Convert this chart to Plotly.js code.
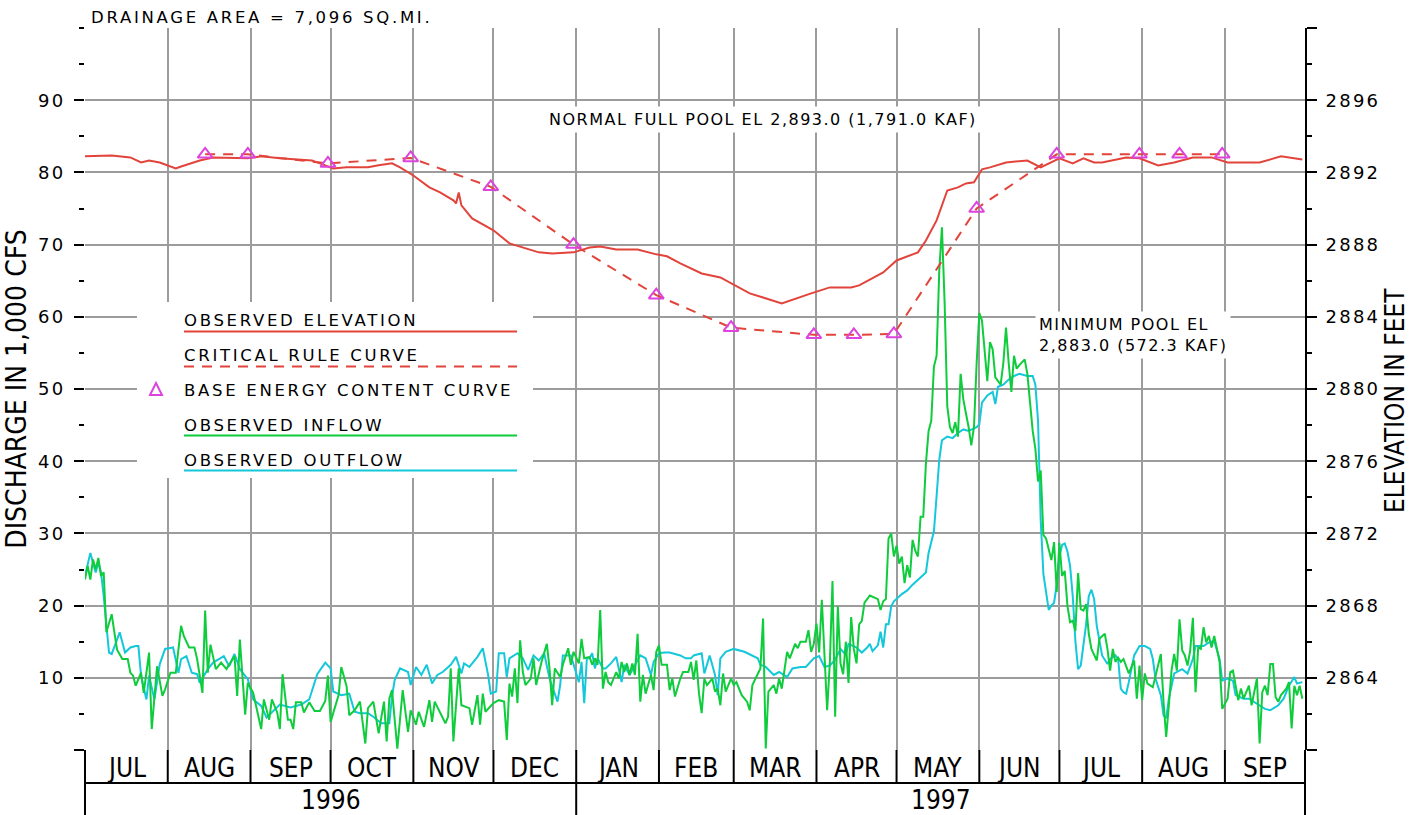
<!DOCTYPE html>
<html>
<head>
<meta charset="utf-8">
<script src="https://cdn.plot.ly/plotly-3.0.1.min.js"></script>
<style>
  html, body { margin: 0; padding: 0; background: #fff; }
  #chart { width: 1415px; height: 815px; }
  .ytick text, .y2tick text { letter-spacing: 2.2px; }
  .annotation-text { letter-spacing: 2.7px; }
  .annotation-text[style*="font-size: 16px"] { letter-spacing: 1.5px; }
  .annotation-text[style*="Condensed"] { letter-spacing: 0; }
</style>
</head>
<body>
<div id="chart"></div>
<script>
// Daily reservoir operation, water years 1996-1997.
// Day numbers count from 1 July 1996; flows in 1,000 cfs, elevations in feet.

const inflow = [
  [0,23.6],[1,25.5],[2,23.6],[3,26.4],[4,25.0],[5,26.6],[6,24.1],[7,24.6],[8,16.3],[10,18.8],[11,16.3],[12,13.9],
  [14,12.6],[16,12.6],[17,10.7],[18,10.3],[19,8.9],[21,10.7],[22,7.9],[24,13.5],[25,2.9],[26,7.9],[27,11.6],[29,7.5],
  [30,8.4],[32,10.7],[34,10.7],[36,17.2],[37,15.8],[39,14.2],[41,14.2],[42,12.6],[44,7.9],[45,19.3],[46,10.7],[47,14.6],
  [49,11.2],[51,12.1],[53,11.2],[56,13.0],[57,7.5],[58,15.3],[59,9.8],[60,4.9],[61,9.3],[63,7.9],[66,2.9],[67,7.0],
  [69,4.2],[70,7.0],[72,5.2],[73,2.9],[74,10.5],[76,4.2],[77,4.2],[78,2.9],[79,6.6],[81,6.6],[82,5.2],[84,6.6],
  [86,5.4],[88,5.4],[90,6.8],[91,10.3],[92,3.9],[95,7.6],[96,11.5],[98,8.8],[99,4.8],[101,5.5],[103,6.7],[105,0.9],
  [106,5.8],[108,6.7],[110,2.3],[112,6.7],[113,1.2],[114,7.1],[115,8.3],[117,0.2],[119,8.3],[121,2.5],[122,5.5],[124,3.5],
  [125,5.3],[127,3.2],[129,6.9],[130,3.9],[131,6.7],[133,5.3],[135,3.7],[136,4.6],[137,11.3],[138,1.2],[140,11.3],[141,6.2],
  [144,5.8],[145,3.5],[147,7.6],[148,3.5],[149,7.8],[150,5.3],[153,6.5],[155,6.9],[157,6.7],[158,1.4],[159,9.2],[160,7.4],
  [161,11.3],[162,6.5],[163,15.2],[164,10.8],[165,9.0],[167,9.9],[168,12.7],[169,9.0],[171,12.2],[173,14.7],[174,11.3],[175,6.2],
  [176,11.3],[178,10.1],[179,11.8],[181,14.1],[182,11.8],[183,13.6],[185,12.0],[186,15.4],[187,12.7],[189,12.9],[190,11.8],[191,12.7],
  [192,11.8],[193,19.4],[194,8.5],[195,10.8],[196,9.4],[197,9.0],[199,10.8],[200,9.9],[201,12.2],[202,10.8],[203,12.0],[204,10.4],
  [205,12.0],[206,10.4],[207,16.1],[208,6.7],[209,10.4],[210,7.8],[212,10.4],[213,8.3],[214,13.6],[215,14.5],[216,11.8],[218,11.8],
  [219,8.3],[220,9.9],[221,7.4],[223,9.9],[224,10.8],[226,10.8],[227,12.2],[228,9.7],[229,12.4],[230,7.8],[231,5.1],[232,9.9],
  [233,9.0],[235,9.9],[236,8.1],[237,8.5],[238,6.2],[239,10.6],[240,8.1],[242,9.9],[243,9.0],[244,9.4],[246,7.6],[248,6.7],
  [249,5.5],[250,9.0],[252,10.4],[253,11.3],[254,18.2],[255,0.2],[256,8.1],[258,9.0],[259,7.8],[260,9.9],[261,8.5],[262,11.1],
  [263,13.6],[264,12.7],[266,14.7],[267,14.1],[268,15.0],[270,15.0],[271,16.6],[272,13.6],[273,14.7],[274,17.5],[275,13.5],[276,20.8],
  [278,5.5],[279,12.0],[280,23.4],[281,4.6],[282,19.9],[283,12.0],[284,10.5],[285,15.0],[286,9.3],[287,18.4],[288,14.0],[289,12.0],
  [290,17.4],[291,17.9],[292,20.4],[294,21.4],[296,21.1],[297,20.9],[298,19.4],[299,20.6],[300,20.9],[301,29.3],[302,30.0],[303,26.8],
  [304,28.3],[305,25.8],[306,26.8],[307,23.1],[308,25.6],[309,23.9],[310,29.1],[311,27.6],[312,26.8],[313,32.3],[314,32.3],[315,39.7],
  [316,44.2],[317,45.6],[318,53.1],[319,54.6],[320,66.4],[321,72.4],[322,62.0],[323,47.6],[324,44.7],[325,43.9],[326,45.4],[327,43.4],
  [328,52.1],[329,48.6],[330,46.6],[331,44.7],[332,42.2],[333,44.7],[334,53.6],[335,60.5],[336,59.5],[338,51.1],[339,56.5],[340,55.5],
  [341,51.6],[343,50.6],[344,53.6],[345,58.5],[346,53.6],[347,49.6],[348,54.6],[349,52.8],[350,53.3],[352,54.1],[353,52.1],[354,48.6],
  [355,44.2],[356,41.7],[357,37.2],[358,38.7],[359,29.8],[360,29.3],[362,26.3],[363,28.8],[364,21.9],[365,28.7],[366,24.1],[367,24.8],
  [368,20.0],[369,17.7],[370,17.9],[371,16.5],[372,24.5],[373,19.5],[374,19.3],[375,20.2],[376,16.1],[377,14.0],[379,12.4],[380,15.4],
  [382,16.1],[383,14.0],[384,11.0],[385,14.0],[386,12.2],[387,12.8],[388,12.2],[389,12.6],[390,11.7],[391,10.6],[393,12.4],[394,7.1],
  [395,11.7],[396,6.9],[397,10.6],[398,9.2],[400,8.7],[401,10.3],[403,13.3],[404,6.7],[405,1.8],[406,6.2],[407,11.0],[408,13.3],
  [409,11.0],[410,18.1],[411,13.8],[412,13.1],[413,11.7],[414,13.8],[415,18.3],[416,8.0],[417,14.2],[418,14.0],[419,17.0],[420,14.9],
  [421,15.8],[422,14.2],[423,15.8],[425,12.2],[426,5.7],[428,7.1],[429,10.8],[430,11.0],[431,8.7],[432,6.9],[433,8.5],[434,7.1],
  [435,8.0],[436,8.9],[437,6.2],[438,8.0],[439,9.9],[440,0.9],[441,8.0],[442,8.9],[443,7.6],[444,11.9],[445,11.9],[446,7.3],
  [447,6.7],[448,7.6],[450,8.5],[451,9.4],[452,3.0],[453,8.9],[454,7.6],[455,8.9],[456,7.1]
];

const outflow = [
  [0,24.1],[2,27.3],[4,24.6],[5,26.0],[6,24.6],[7,21.3],[9,13.5],[10,13.3],[12,15.3],[13,16.3],[15,13.5],[17,14.2],
  [19,14.4],[20,14.4],[21,10.3],[23,7.0],[24,10.3],[26,7.0],[28,11.9],[30,14.0],[33,14.2],[35,10.7],[36,12.6],[38,13.0],
  [40,10.7],[42,10.5],[43,9.3],[46,11.2],[48,12.1],[52,13.0],[54,11.6],[56,13.3],[58,11.2],[61,9.8],[63,7.0],[66,6.1],
  [68,4.5],[71,5.6],[73,6.3],[77,5.9],[81,6.3],[84,7.0],[87,10.5],[90,12.1],[92,11.3],[93,8.1],[96,7.6],[99,7.8],
  [101,5.3],[103,5.1],[106,5.1],[108,4.6],[111,3.7],[114,3.7],[115,7.4],[116,9.7],[118,11.3],[121,10.8],[122,9.0],[124,11.5],
  [126,10.4],[128,11.8],[130,9.2],[132,10.4],[134,10.8],[137,11.8],[139,12.9],[141,10.6],[142,12.0],[144,11.5],[147,12.9],[149,14.1],
  [151,10.4],[152,7.8],[154,8.1],[155,13.4],[157,13.4],[158,10.1],[159,12.7],[162,13.4],[164,12.7],[166,11.1],[168,13.1],[170,12.4],
  [172,13.4],[174,9.9],[177,6.7],[178,9.0],[179,13.1],[182,13.1],[184,10.8],[185,9.4],[186,12.2],[187,6.5],[188,12.7],[189,12.7],
  [190,13.4],[191,11.3],[192,12.7],[194,11.3],[195,11.3],[197,12.0],[199,12.9],[200,11.3],[201,9.4],[202,11.8],[204,10.4],[206,11.8],
  [208,13.1],[210,12.7],[212,10.4],[213,12.2],[215,13.4],[217,13.5],[219,13.5],[223,13.1],[225,12.7],[227,12.7],[228,13.1],[231,13.4],
  [232,10.6],[234,13.1],[236,10.4],[237,7.6],[238,12.7],[240,13.6],[243,14.0],[247,13.6],[250,13.1],[252,12.7],[253,11.8],[255,11.5],
  [258,10.4],[260,10.8],[263,10.1],[265,11.3],[268,11.5],[270,11.5],[273,12.7],[275,13.0],[277,11.5],[279,11.7],[281,12.5],[283,14.0],
  [285,13.2],[286,14.7],[289,14.2],[291,13.5],[293,14.2],[294,14.7],[295,13.7],[297,14.5],[298,16.4],[299,14.2],[300,17.4],[301,17.4],
  [302,19.9],[303,20.6],[306,21.6],[308,22.1],[310,22.9],[313,23.9],[315,24.6],[316,27.3],[318,30.3],[319,35.2],[320,40.2],[321,42.9],
  [323,43.4],[325,43.2],[327,43.9],[329,44.4],[331,44.2],[334,44.7],[335,45.1],[336,48.1],[338,49.1],[340,49.6],[341,47.9],[342,50.3],
  [344,50.6],[346,51.3],[348,51.8],[350,52.1],[353,51.8],[355,51.8],[356,50.6],[357,45.6],[358,31.8],[359,24.4],[361,19.4],[362,20.0],
  [363,20.4],[364,22.9],[365,26.8],[366,28.4],[367,28.6],[368,27.5],[369,25.5],[370,21.3],[371,15.0],[372,11.2],[373,11.7],[375,17.4],
  [376,21.3],[377,22.2],[378,20.9],[379,17.2],[380,15.4],[381,13.1],[383,11.9],[384,12.6],[386,13.1],[387,12.6],[388,8.5],[389,8.0],
  [390,7.8],[391,9.4],[393,13.1],[395,14.4],[397,14.4],[399,14.0],[400,12.6],[401,9.9],[403,7.6],[404,4.8],[405,4.4],[406,7.1],
  [408,10.6],[410,11.0],[411,11.2],[413,10.6],[415,12.6],[416,14.4],[419,14.4],[421,14.9],[423,15.1],[425,12.6],[426,9.6],[428,9.9],
  [430,9.6],[431,7.6],[434,7.1],[436,7.1],[439,6.4],[442,5.7],[444,5.5],[447,6.2],[449,7.1],[451,8.9],[453,10.1],[454,9.2],[456,9.4]
];

const elevation = [
  [0,2892.89],[10,2892.94],[17,2892.83],[21,2892.55],[24,2892.66],[28,2892.55],[34,2892.22],[36,2892.33],[43,2892.66],[48,2892.83],
  [61,2892.78],[66,2892.89],[73,2892.78],[85,2892.66],[88,2892.50],[93,2892.22],[98,2892.28],[106,2892.28],[110,2892.39],[115,2892.50],
  [118,2892.28],[123,2891.83],[129,2891.17],[133,2890.89],[138,2890.45],[139,2890.28],[140,2890.89],[141,2890.17],[145,2889.45],[153,2888.79],
  [159,2888.07],[170,2887.57],[175,2887.51],[183,2887.57],[189,2887.84],[193,2887.90],[199,2887.73],[207,2887.73],[214,2887.46],[218,2887.35],
  [223,2886.96],[231,2886.40],[238,2886.18],[249,2885.30],[254,2885.07],[261,2884.74],[272,2885.30],[279,2885.63],[287,2885.63],[290,2885.74],
  [299,2886.46],[304,2887.12],[312,2887.57],[315,2888.23],[319,2889.34],[323,2891.00],[327,2891.17],[330,2891.39],[333,2891.45],[336,2892.17],
  [339,2892.28],[345,2892.55],[353,2892.66],[358,2892.28],[365,2892.78],[370,2892.50],[374,2892.78],[378,2892.55],[381,2892.55],[390,2892.83],
  [395,2892.78],[402,2892.39],[408,2892.55],[415,2892.83],[422,2892.83],[428,2892.55],[440,2892.55],[448,2892.89],[456,2892.72]
];

const ruleCurve = [
  [45,2893.0],[61,2893.0],[91,2892.5],[122,2892.8],[152,2891.2],[183,2888.0],[214,2885.2],[242,2883.4],
  [273,2883.0],[288,2883.0],[303,2883.05],[334,2890.0],[364,2893.0],[395,2893.0],[410,2893.0],[426,2893.0]
];

const baseEnergy = [
  [45,2893.0],[61,2893.0],[91,2892.5],[122,2892.8],[152,2891.2],[183,2888.0],[214,2885.2],[242,2883.4],
  [273,2883.0],[288,2883.0],[303,2883.05],[334,2890.0],[364,2893.0],[395,2893.0],[410,2893.0],[426,2893.0]
];

const monthLabels = ['JUL','AUG','SEP','OCT','NOV','DEC','JAN','FEB','MAR','APR','MAY','JUN','JUL','AUG','SEP'];
const yearLabels = ['1996', '1997'];
const yearBounds = ['1996-07-01', '1997-01-01', '1997-10-01'];
const dischargeTicks = [0, 10, 20, 30, 40, 50, 60, 70, 80, 90];
const elevationTicks = [2860, 2864, 2868, 2872, 2876, 2880, 2884, 2888, 2892, 2896, 2900];

const legendItems = ['OBSERVED ELEVATION', 'CRITICAL RULE CURVE', 'BASE ENERGY CONTENT CURVE', 'OBSERVED INFLOW', 'OBSERVED OUTFLOW'];

// ---- helpers ----
const T0 = Date.UTC(1996, 6, 1);
const DAY = 86400000;
const toDate = d => new Date(T0 + d * DAY).toISOString().slice(0, 10);
const xs = arr => arr.map(p => toDate(p[0]));
const ys = arr => arr.map(p => p[1]);

const monthStarts = [];
for (let i = 0; i <= monthLabels.length; i++) {
  monthStarts.push(new Date(Date.UTC(1996, 6 + i, 1)).toISOString().slice(0, 10));
}
const mid = (a, b) => new Date((Date.parse(a) + Date.parse(b)) / 2).toISOString().slice(0, 19);

const RED = '#e2443b', MAGENTA = '#dd44dd', GREEN = '#0fcc3c', CYAN = '#14c8da';
const GRID = '#9c9c9c';
const SPACED = 'DejaVu Sans, sans-serif';
const NARROW = 'DejaVu Sans Condensed, DejaVu Sans, sans-serif';

const traces = [
  { x: xs(outflow), y: ys(outflow), yaxis: 'y', mode: 'lines', line: { color: CYAN, width: 2 }, name: 'OBSERVED OUTFLOW' },
  { x: xs(inflow), y: ys(inflow), yaxis: 'y', mode: 'lines', line: { color: GREEN, width: 2 }, name: 'OBSERVED INFLOW' },
  { x: xs(ruleCurve), y: ys(ruleCurve), yaxis: 'y2', mode: 'lines', line: { color: RED, width: 2, dash: '10px,8px' }, name: 'CRITICAL RULE CURVE' },
  { x: xs(elevation), y: ys(elevation), yaxis: 'y2', mode: 'lines', line: { color: RED, width: 2 }, name: 'OBSERVED ELEVATION' },
  { x: xs(baseEnergy), y: ys(baseEnergy), yaxis: 'y2', mode: 'markers',
    marker: { symbol: 'triangle-up-open', size: 13, color: MAGENTA, line: { color: MAGENTA, width: 2 } }, name: 'BASE ENERGY CONTENT CURVE' }
];

// ---- pixel-to-paper helpers for the frame (plot area is 1220 x 722) ----
const PW = 1220, PH = 722;
const px = v => (v - 85) / PW;
const py = v => (750 - v) / PH;

const shapes = [];
const annotations = [];

// bottom table: month row and year row
const rowY = py(783), botY = py(815);
shapes.push({ type: 'line', xref: 'paper', yref: 'paper', x0: 0, x1: 1, y0: rowY, y1: rowY, line: { color: '#000', width: 2 } });
shapes.push({ type: 'line', xref: 'paper', yref: 'paper', x0: 0, x1: 0, y0: 0, y1: botY, line: { color: '#000', width: 2 } });
shapes.push({ type: 'line', xref: 'paper', yref: 'paper', x0: 1, x1: 1, y0: 0, y1: botY, line: { color: '#000', width: 2 } });
for (let i = 1; i < monthLabels.length; i++) {
  shapes.push({ type: 'line', xref: 'x', yref: 'paper', x0: monthStarts[i], x1: monthStarts[i], y0: 0, y1: rowY, line: { color: '#000', width: 2 } });
}
for (let i = 1; i < yearBounds.length - 1; i++) {
  shapes.push({ type: 'line', xref: 'x', yref: 'paper', x0: yearBounds[i], x1: yearBounds[i], y0: rowY, y1: botY, line: { color: '#000', width: 2 } });
}
monthLabels.forEach((m, i) => {
  annotations.push({ x: mid(monthStarts[i], monthStarts[i + 1]), y: py(768), xref: 'x', yref: 'paper',
    text: m, showarrow: false, xanchor: 'center', yanchor: 'middle', font: { family: NARROW, size: 26, color: '#000' } });
});
yearLabels.forEach((yl, i) => {
  annotations.push({ x: mid(yearBounds[i], yearBounds[i + 1]), y: py(800), xref: 'x', yref: 'paper',
    text: yl, showarrow: false, xanchor: 'center', yanchor: 'middle', font: { family: NARROW, size: 26, color: '#000' } });
});

// legend panel
shapes.push({ type: 'rect', xref: 'paper', yref: 'paper', x0: px(137), x1: px(533), y0: py(478), y1: py(302),
  fillcolor: '#fff', line: { width: 0 }, layer: 'above' });
const legendTextY = [320, 355, 390, 425, 460];
const legendLineY = [331.5, 366.5, null, 435.5, 470.5];
const legendStyles = [
  { color: RED, width: 2 }, { color: RED, width: 2, dash: '10px,8px' }, null,
  { color: GREEN, width: 2 }, { color: CYAN, width: 2 }
];
legendItems.forEach((t, i) => {
  annotations.push({ x: px(182), y: py(legendTextY[i]), xref: 'paper', yref: 'paper', text: t, showarrow: false,
    xanchor: 'left', yanchor: 'middle', font: { family: SPACED, size: 16.5, color: '#000' } });
  if (legendLineY[i] !== null) {
    shapes.push({ type: 'line', xref: 'paper', yref: 'paper', x0: px(184), x1: px(517), y0: py(legendLineY[i]), y1: py(legendLineY[i]),
      line: legendStyles[i], layer: 'above' });
  }
});
{
  const cx = 156, cy = 390;
  const path = `M ${px(cx - 6)} ${py(cy + 5)} L ${px(cx + 6)} ${py(cy + 5)} L ${px(cx)} ${py(cy - 7)} Z`;
  shapes.push({ type: 'path', xref: 'paper', yref: 'paper', path, line: { color: MAGENTA, width: 2 }, fillcolor: 'rgba(0,0,0,0)', layer: 'above' });
}

// notes
annotations.push({ x: px(89), y: 1 + (28 - 17) / PH, xref: 'paper', yref: 'paper', text: 'DRAINAGE AREA = 7,096 SQ.MI.',
  showarrow: false, xanchor: 'left', yanchor: 'middle', font: { family: SPACED, size: 16.5, color: '#000' } });
annotations.push({ x: '1997-03-12', y: 2894.95, xref: 'x', yref: 'y2', text: 'NORMAL FULL POOL EL 2,893.0 (1,791.0 KAF)',
  showarrow: false, xanchor: 'center', yanchor: 'middle', bgcolor: '#fff', borderpad: 3,
  font: { family: SPACED, size: 16, color: '#000' } });
annotations.push({ x: '1997-06-22', y: 2883.0, xref: 'x', yref: 'y2', text: 'MINIMUM POOL EL<br>2,883.0 (572.3 KAF)',
  showarrow: false, xanchor: 'left', yanchor: 'middle', align: 'left', bgcolor: '#fff', borderpad: 3,
  font: { family: SPACED, size: 16, color: '#000' } });

// right-hand axis title
annotations.push({ x: px(1395), y: py(401), xref: 'paper', yref: 'paper', text: 'ELEVATION IN FEET', textangle: -90,
  showarrow: false, xanchor: 'center', yanchor: 'middle', font: { family: NARROW, size: 26, color: '#000' } });

const tickFont = { family: SPACED, size: 18, color: '#000' };

const layout = {
  width: 1415, height: 815,
  margin: { l: 85, r: 110, t: 28, b: 65, pad: 0 },
  paper_bgcolor: '#fff', plot_bgcolor: '#fff',
  showlegend: false,
  xaxis: {
    type: 'date', range: [monthStarts[0], monthStarts[monthStarts.length - 1]],
    tickmode: 'array', tickvals: monthStarts, showticklabels: false, ticks: '',
    showgrid: true, gridcolor: GRID, gridwidth: 2, zeroline: false, showline: false, fixedrange: true
  },
  yaxis: {
    range: [0, 100], tickmode: 'array', tickvals: dischargeTicks,
    ticktext: dischargeTicks.map(v => v === 0 ? '' : String(v)),
    ticks: 'outside', ticklen: 10, tickwidth: 2, tickcolor: '#000', ticklabelstandoff: 5,
    minor: { tickmode: 'linear', tick0: 0, dtick: 5, ticks: 'outside', ticklen: 5, tickwidth: 2, tickcolor: '#000', showgrid: false },
    showgrid: true, gridcolor: GRID, gridwidth: 2, zeroline: false, showline: false,
    tickfont: tickFont,
    title: { text: 'DISCHARGE IN 1,000 CFS', font: { family: NARROW, size: 28, color: '#000' }, standoff: 8 }
  },
  yaxis3: {
    overlaying: 'y', side: 'left', range: [0, 100], tickmode: 'array', tickvals: [100], ticktext: [''],
    ticks: 'outside', ticklen: 10, tickwidth: 2, tickcolor: '#000', showgrid: false, zeroline: false, showline: false
  },
  yaxis2: {
    overlaying: 'y', side: 'right', range: [2860, 2900], tickmode: 'array', tickvals: elevationTicks,
    ticktext: elevationTicks.map(v => (v === 2860 || v === 2900) ? '' : String(v)),
    ticks: 'outside', ticklen: 10, tickwidth: 2, tickcolor: '#000', ticklabelstandoff: 5,
    minor: { tickmode: 'linear', tick0: 2860, dtick: 2, ticks: 'outside', ticklen: 5, tickwidth: 2, tickcolor: '#000', showgrid: false },
    showgrid: false, zeroline: false, showline: true, linecolor: '#000', linewidth: 2,
    tickfont: tickFont
  },
  shapes, annotations
};

Plotly.newPlot('chart', traces, layout, { staticPlot: true, displayModeBar: false });
</script>
</body>
</html>
